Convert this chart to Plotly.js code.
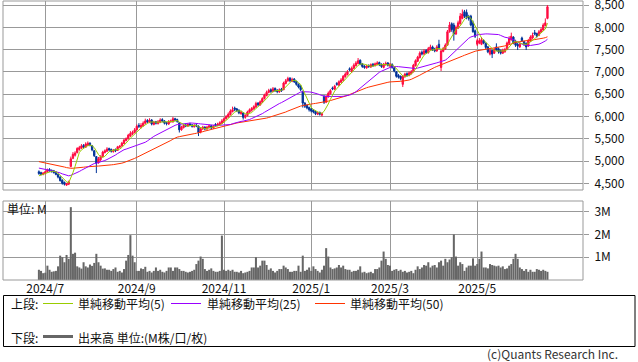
<!DOCTYPE html>
<html><head><meta charset="utf-8">
<script src="https://cdn.plot.ly/plotly-3.0.1.min.js"></script>
<style>html,body{margin:0;padding:0;background:#fff}#chart{width:638px;height:362px}</style>
</head><body><div id="chart"></div>
<script>
const startDate = '2024-06-26';
const holidays = ['2024-07-15','2024-08-12','2024-09-16','2024-09-23','2024-10-14','2024-11-04','2024-12-31','2025-01-01','2025-01-02','2025-01-03','2025-01-13','2025-02-11','2025-02-24','2025-03-20','2025-04-29','2025-05-05','2025-05-06'];
const tickLabels = ['2024/7','2024/9','2024/11','2025/1','2025/3','2025/5'];

const priorCloses = [5150,5200,5230,5180,5160,5210,5190,5150,5170,5220,5200,5160,5140,5180,5150,
5100,5080,5050,5090,5040,5020,5060,5070,5030,5060,
5020,5000,4980,5010,4990,4970,5000,4980,4960,4990,5010,4970,
4850,4800,4760,4720,4700,4680,4650,4660,4640,4620,4660,4700];

const opens = [
4760,4740,4700,4720,4760,4810,4790,4780,4750,4700,
4640,4570,4520,4460,4480,4880,5060,5130,5190,5260,
5290,5350,5310,5350,5400,5340,5230,5100,4960,5030,
5100,5190,5220,5280,5260,5210,5260,5240,5310,5340,
5390,5460,5500,5560,5610,5640,5700,5800,5760,5790,
5850,5910,5870,5920,5820,5880,5840,5870,5930,5900,
5860,5830,5880,5880,5950,5930,5860,5700,5750,5810,
5790,5830,5810,5770,5810,5780,5650,5720,5760,5720,
5750,5790,5740,5820,5800,5820,5850,5890,5950,5990,
6040,6110,6190,6170,6140,6060,6080,5980,6020,6100,
6140,6170,6210,6300,6260,6320,6400,6470,6540,6600,
6560,6630,6590,6550,6610,6600,6740,6800,6860,6790,
6840,6790,6720,6680,6560,6300,6250,6200,6170,6140,
6110,6050,6090,6030,6450,6320,6440,6510,6640,6610,
6740,6700,6770,6810,6890,6940,7070,7000,7080,7140,
7190,7260,7180,7130,7090,7140,7110,7170,7140,7170,
7210,7170,7100,7160,7200,7130,7170,7090,7000,6920,
6900,6720,6890,6960,6920,6960,7000,7140,7240,7320,
7440,7400,7480,7430,7500,7560,7510,7470,7620,7100,
7460,7510,7600,7900,8080,8050,7850,7980,8080,8200,
8350,8330,8240,8250,8100,7920,7620,7650,7620,7700,
7640,7560,7400,7480,7420,7560,7520,7480,7420,7450,
7500,7640,7720,7780,7680,7620,7560,7760,7680,7640,
7580,7690,7760,7880,7860,7820,7890,7940,8040,8200];

const highs = [
4790,4760,4750,4780,4830,4840,4810,4800,4770,4720,
4660,4590,4540,4510,4560,5100,5200,5220,5310,5340,
5380,5380,5420,5440,5420,5360,5250,5110,5090,5130,
5230,5260,5310,5300,5280,5270,5280,5340,5360,5430,
5500,5530,5610,5670,5680,5740,5820,5850,5850,5890,
5950,5940,5960,5940,5900,5900,5920,5960,5960,5920,
5880,5920,5930,5990,5970,5950,5870,5790,5830,5840,
5850,5860,5830,5830,5840,5800,5750,5790,5780,5790,
5820,5810,5810,5850,5860,5890,5940,5980,6030,6090,
6160,6220,6220,6190,6160,6130,6090,6050,6130,6180,
6210,6250,6330,6320,6360,6430,6510,6580,6620,6630,
6660,6650,6610,6630,6640,6780,6840,6890,6880,6870,
6860,6800,6740,6700,6580,6320,6270,6220,6190,6160,
6130,6110,6110,6090,6480,6480,6560,6610,6670,6710,
6770,6810,6860,6930,6990,7040,7100,7120,7190,7240,
7310,7280,7200,7150,7160,7170,7190,7200,7210,7240,
7230,7190,7200,7230,7220,7200,7190,7110,7020,6950,
6920,6930,6980,6990,7010,7040,7180,7280,7360,7460,
7480,7510,7510,7560,7610,7590,7540,7600,7720,7500,
7560,7640,7940,8120,8110,8100,8040,8150,8320,8400,
8390,8400,8280,8280,8150,7950,7740,7760,7780,7730,
7660,7580,7520,7500,7540,7640,7550,7500,7520,7540,
7680,7800,7880,7800,7720,7650,7660,7790,7700,7660,
7740,7820,7880,7940,7880,7940,7990,8090,8200,8500];

const lows = [
4690,4680,4680,4700,4740,4760,4740,4720,4680,4610,
4540,4470,4450,4440,4460,4860,5040,5100,5170,5230,
5270,5290,5300,5330,5330,5220,5090,4730,4940,5000,
5080,5170,5200,5220,5190,5190,5200,5230,5290,5320,
5380,5440,5480,5540,5580,5620,5690,5740,5730,5770,
5830,5850,5850,5800,5800,5820,5820,5850,5870,5820,
5800,5810,5860,5860,5890,5860,5640,5680,5730,5760,
5770,5780,5750,5750,5760,5560,5620,5700,5690,5700,
5730,5710,5720,5770,5780,5800,5830,5870,5930,5970,
6020,6090,6120,6100,6050,6040,5930,5950,6000,6080,
6110,6150,6190,6230,6240,6300,6380,6450,6520,6530,
6540,6550,6520,6530,6550,6590,6720,6780,6770,6770,
6750,6690,6630,6570,6200,6190,6160,6110,6090,6070,
6030,6030,6020,6000,6280,6300,6420,6490,6590,6590,
6690,6680,6750,6790,6870,6920,7020,6980,7060,7120,
7170,7150,7090,7070,7070,7090,7090,7110,7120,7150,
7130,7090,7080,7140,7120,7110,7070,6990,6870,6850,
6810,6660,6870,6890,6900,6940,6990,7120,7220,7300,
7370,7380,7400,7410,7480,7470,7440,7450,7510,7020,
7440,7490,7580,7880,7900,7700,7830,7960,8060,8180,
8210,8180,8150,8020,7880,7760,7580,7620,7600,7620,
7510,7420,7370,7310,7400,7470,7410,7390,7400,7430,
7490,7620,7700,7620,7560,7490,7540,7670,7580,7490,
7560,7670,7740,7820,7770,7800,7870,7920,8020,8180];

const closes = [
4720,4700,4730,4760,4800,4780,4770,4740,4700,4640,
4560,4500,4480,4490,4530,5050,5150,5180,5280,5300,
5340,5320,5380,5400,5360,5250,5120,4950,5050,5100,
5200,5230,5270,5250,5220,5240,5230,5320,5330,5400,
5470,5500,5580,5620,5640,5700,5780,5780,5800,5850,
5900,5880,5920,5830,5870,5850,5880,5920,5900,5850,
5840,5890,5900,5950,5920,5890,5700,5760,5800,5790,
5820,5810,5780,5800,5790,5640,5720,5760,5720,5760,
5790,5740,5780,5800,5830,5860,5900,5950,6000,6050,
6120,6150,6160,6130,6080,6100,5980,6020,6100,6150,
6180,6220,6290,6260,6330,6400,6480,6540,6580,6560,
6620,6580,6560,6600,6580,6750,6800,6850,6800,6830,
6780,6720,6660,6600,6300,6230,6190,6150,6120,6100,
6060,6080,6050,6060,6320,6450,6520,6580,6620,6680,
6720,6780,6820,6900,6950,7000,7050,7080,7150,7200,
7250,7180,7120,7100,7130,7120,7160,7140,7180,7200,
7160,7120,7170,7190,7150,7170,7100,7020,6900,6880,
6850,6900,6950,6920,6980,7000,7150,7250,7330,7420,
7400,7470,7430,7520,7560,7500,7470,7560,7540,7470,
7520,7600,7900,8050,7950,7850,8000,8100,8250,8300,
8250,8220,8200,8050,7900,7800,7700,7700,7720,7650,
7550,7450,7480,7400,7500,7500,7450,7420,7480,7500,
7650,7750,7800,7650,7600,7580,7620,7700,7620,7560,
7700,7780,7820,7850,7800,7900,7950,8050,8100,8460];

const volumesM = [
0.45,0.40,0.30,0.32,0.63,0.45,0.36,0.38,0.40,0.60,
1.07,1.00,0.78,1.10,0.93,3.20,1.15,1.20,0.60,0.55,
0.50,0.78,0.60,0.55,0.68,0.62,0.75,1.15,0.78,0.63,
0.50,0.51,0.45,0.45,0.40,0.48,0.55,0.36,0.40,0.33,
0.48,0.85,1.10,1.97,1.07,0.78,0.40,0.40,0.51,0.48,
0.58,0.36,0.40,0.33,0.40,0.55,0.40,0.45,0.36,0.33,
0.40,0.55,0.55,0.40,0.55,0.55,0.48,0.40,0.40,0.36,
0.33,0.36,0.40,0.45,0.70,0.85,1.03,0.93,0.48,0.40,
0.45,0.51,0.40,0.36,0.36,0.40,1.95,0.45,0.40,0.45,
0.40,0.45,0.36,0.36,0.33,0.40,0.30,0.33,0.36,0.40,
0.55,0.55,1.00,0.55,0.63,0.85,0.85,0.66,0.45,0.51,
0.40,0.33,0.40,0.48,0.48,0.63,0.55,0.48,0.36,0.36,
0.40,0.40,0.63,0.36,1.07,0.40,0.45,0.55,0.40,0.60,
0.48,0.40,0.33,0.45,0.63,1.40,1.03,0.55,0.48,0.51,
0.55,0.66,0.55,0.63,0.48,0.45,0.45,0.36,0.40,0.40,
0.45,0.60,0.33,0.36,0.30,0.33,0.36,0.30,0.48,0.48,
0.55,0.85,1.25,0.93,0.66,0.63,0.40,0.45,0.48,0.40,
0.45,0.36,0.40,0.33,0.36,0.40,0.30,0.45,0.60,0.48,
0.55,0.66,0.63,0.78,0.55,0.63,0.66,0.55,0.78,0.85,
0.63,0.93,0.78,0.90,1.00,2.00,1.03,0.63,0.78,0.70,
0.40,0.55,0.63,0.63,0.95,0.63,0.70,0.93,1.25,0.55,
0.55,0.51,0.70,0.66,0.63,0.60,0.63,0.55,0.60,0.48,
0.51,0.63,0.70,0.93,1.15,0.93,0.55,0.48,0.40,0.48,
0.36,0.45,0.36,0.36,0.48,0.45,0.40,0.45,0.40,0.36];

// trading calendar
function tradingDays(start, n, hol){
  const out=[]; const hs=new Set(hol); const d=new Date(start+'T00:00:00Z');
  while(out.length<n){
    const dow=d.getUTCDay(); const s=d.toISOString().slice(0,10);
    if(dow!==0 && dow!==6 && !hs.has(s)) out.push(s);
    d.setUTCDate(d.getUTCDate()+1);
  }
  return out;
}
const N = closes.length;
const dates = tradingDays(startDate, N, holidays);
const idx = dates.map((_,i)=>i);
const tickVals = tickLabels.map(l=>{
  const [y,m]=l.split('/'); const key=y+'-'+String(m).padStart(2,'0');
  return dates.findIndex(d=>d.startsWith(key));
});

function sma(n){
  const all = priorCloses.concat(closes); const P = priorCloses.length; const out=[];
  for(let i=0;i<N;i++){
    const end=P+i; const st=end-n+1;
    if(st<0){out.push(null);continue;}
    let s=0; for(let k=st;k<=end;k++) s+=all[k]; out.push(s/n);
  }
  return out;
}

const RED='#ff0a40', BLUE='#003399';
const traces = [
  {type:'candlestick', x:idx, open:opens, high:highs, low:lows, close:closes, xaxis:'x', yaxis:'y',
   increasing:{line:{color:RED,width:1}, fillcolor:RED},
   decreasing:{line:{color:BLUE,width:1}, fillcolor:BLUE},
   whiskerwidth:0, hoverinfo:'skip'},
  {type:'scatter', mode:'lines', x:idx, y:sma(50), line:{color:'#ff3300',width:1}, xaxis:'x', yaxis:'y', hoverinfo:'skip'},
  {type:'scatter', mode:'lines', x:idx, y:sma(25), line:{color:'#9900ff',width:1}, xaxis:'x', yaxis:'y', hoverinfo:'skip'},
  {type:'scatter', mode:'lines', x:idx, y:sma(5), line:{color:'#99cc00',width:1}, xaxis:'x', yaxis:'y', hoverinfo:'skip'},
  {type:'bar', x:idx, y:volumesM, marker:{color:'#666666',line:{width:0}}, xaxis:'x', yaxis:'y2', hoverinfo:'skip'}
];

// pixel helpers (plot area: x 3..583, y 1..280)
const PL=3, PW=580, PT=1, PH=279;
const px=x=>(x-PL)/PW, py=y=>(PT+PH-y)/PH;
const FONT='"Noto Sans CJK JP", "Noto Sans", sans-serif';

const shapes = [
  {type:'rect', xref:'x domain', yref:'y domain', x0:0,x1:1,y0:0,y1:1, line:{color:'#999',width:1}},
  {type:'rect', xref:'x domain', yref:'y2 domain', x0:0,x1:1,y0:0,y1:1, line:{color:'#999',width:1}},
  {type:'rect', xref:'paper', yref:'paper', x0:px(3.5), x1:px(635), y0:py(346.5), y1:py(295.5), line:{color:'#000',width:1}},
  {type:'line', xref:'paper', yref:'paper', x0:px(43), x1:px(73), y0:py(303.5), y1:py(303.5), line:{color:'#99cc00',width:1}},
  {type:'line', xref:'paper', yref:'paper', x0:px(171), x1:px(201), y0:py(303.5), y1:py(303.5), line:{color:'#9900ff',width:1}},
  {type:'line', xref:'paper', yref:'paper', x0:px(315), x1:px(345), y0:py(303.5), y1:py(303.5), line:{color:'#ff3300',width:1}},
  {type:'line', xref:'paper', yref:'paper', x0:px(43), x1:px(73), y0:py(336.5), y1:py(336.5), line:{color:'#666666',width:3}}
];
const ann=(t,x,y,xa,opt)=>Object.assign({text:t, xref:'paper', yref:'paper', x:px(x), y:py(y), xanchor:xa||'left', yanchor:'middle', showarrow:false, borderpad:0, font:{family:FONT,size:12,color:'#111'}},opt||{});
const annotations = [
  ann('単位: M',6,208),
  ann('上段:',10,303),
  ann('単純移動平均(5)',77,303),
  ann('単純移動平均(25)',206,303),
  ann('単純移動平均(50)',349,303),
  ann('下段:',10,337),
  ann('出来高 単位:(M株/口/枚)',77,337),
  ann('(c)Quants Research Inc.',619,353,'right',{font:{family:FONT,size:12,color:'#333'}})
];

const layout = {
  width:638, height:362, margin:{l:PL, r:638-PL-PW, t:PT, b:362-PT-PH},
  paper_bgcolor:'#fff', plot_bgcolor:'#fff', showlegend:false, hovermode:false,
  font:{family:FONT, size:12, color:'#111'},
  boxgap:0.12, bargap:0.05,
  xaxis:{range:[-16.87,255.7], anchor:'y2', tickmode:'array', tickvals:tickVals, ticktext:tickLabels,
    showgrid:true, gridcolor:'#999', gridwidth:1, ticks:'', zeroline:false, showline:false,
    rangeslider:{visible:false}, fixedrange:true, tickfont:{family:FONT,size:12,color:'#111'}},
  yaxis:{domain:[py(190),1], range:[4350,8590], anchor:'x', side:'right', tickmode:'linear', tick0:4500, dtick:500,
    tickformat:',d', showgrid:true, gridcolor:'#999', gridwidth:1, ticks:'outside', ticklen:5, tickcolor:'#999',
    zeroline:false, showline:false, fixedrange:true, ticklabelstandoff:3, ticklabeloverflow:'allow',
    tickfont:{family:FONT,size:12,color:'#111'}},
  yaxis2:{domain:[0,py(201)], range:[0,3.47], anchor:'x', side:'right', tickmode:'array', tickvals:[1,2,3], ticktext:['1M','2M','3M'],
    showgrid:true, gridcolor:'#999', gridwidth:1, ticks:'outside', ticklen:5, tickcolor:'#999',
    zeroline:false, showline:false, fixedrange:true, ticklabelstandoff:3, tickfont:{family:FONT,size:12,color:'#111'}},
  shapes:shapes, annotations:annotations
};
Plotly.newPlot('chart', traces, layout, {staticPlot:true, displayModeBar:false});
</script></body></html>
